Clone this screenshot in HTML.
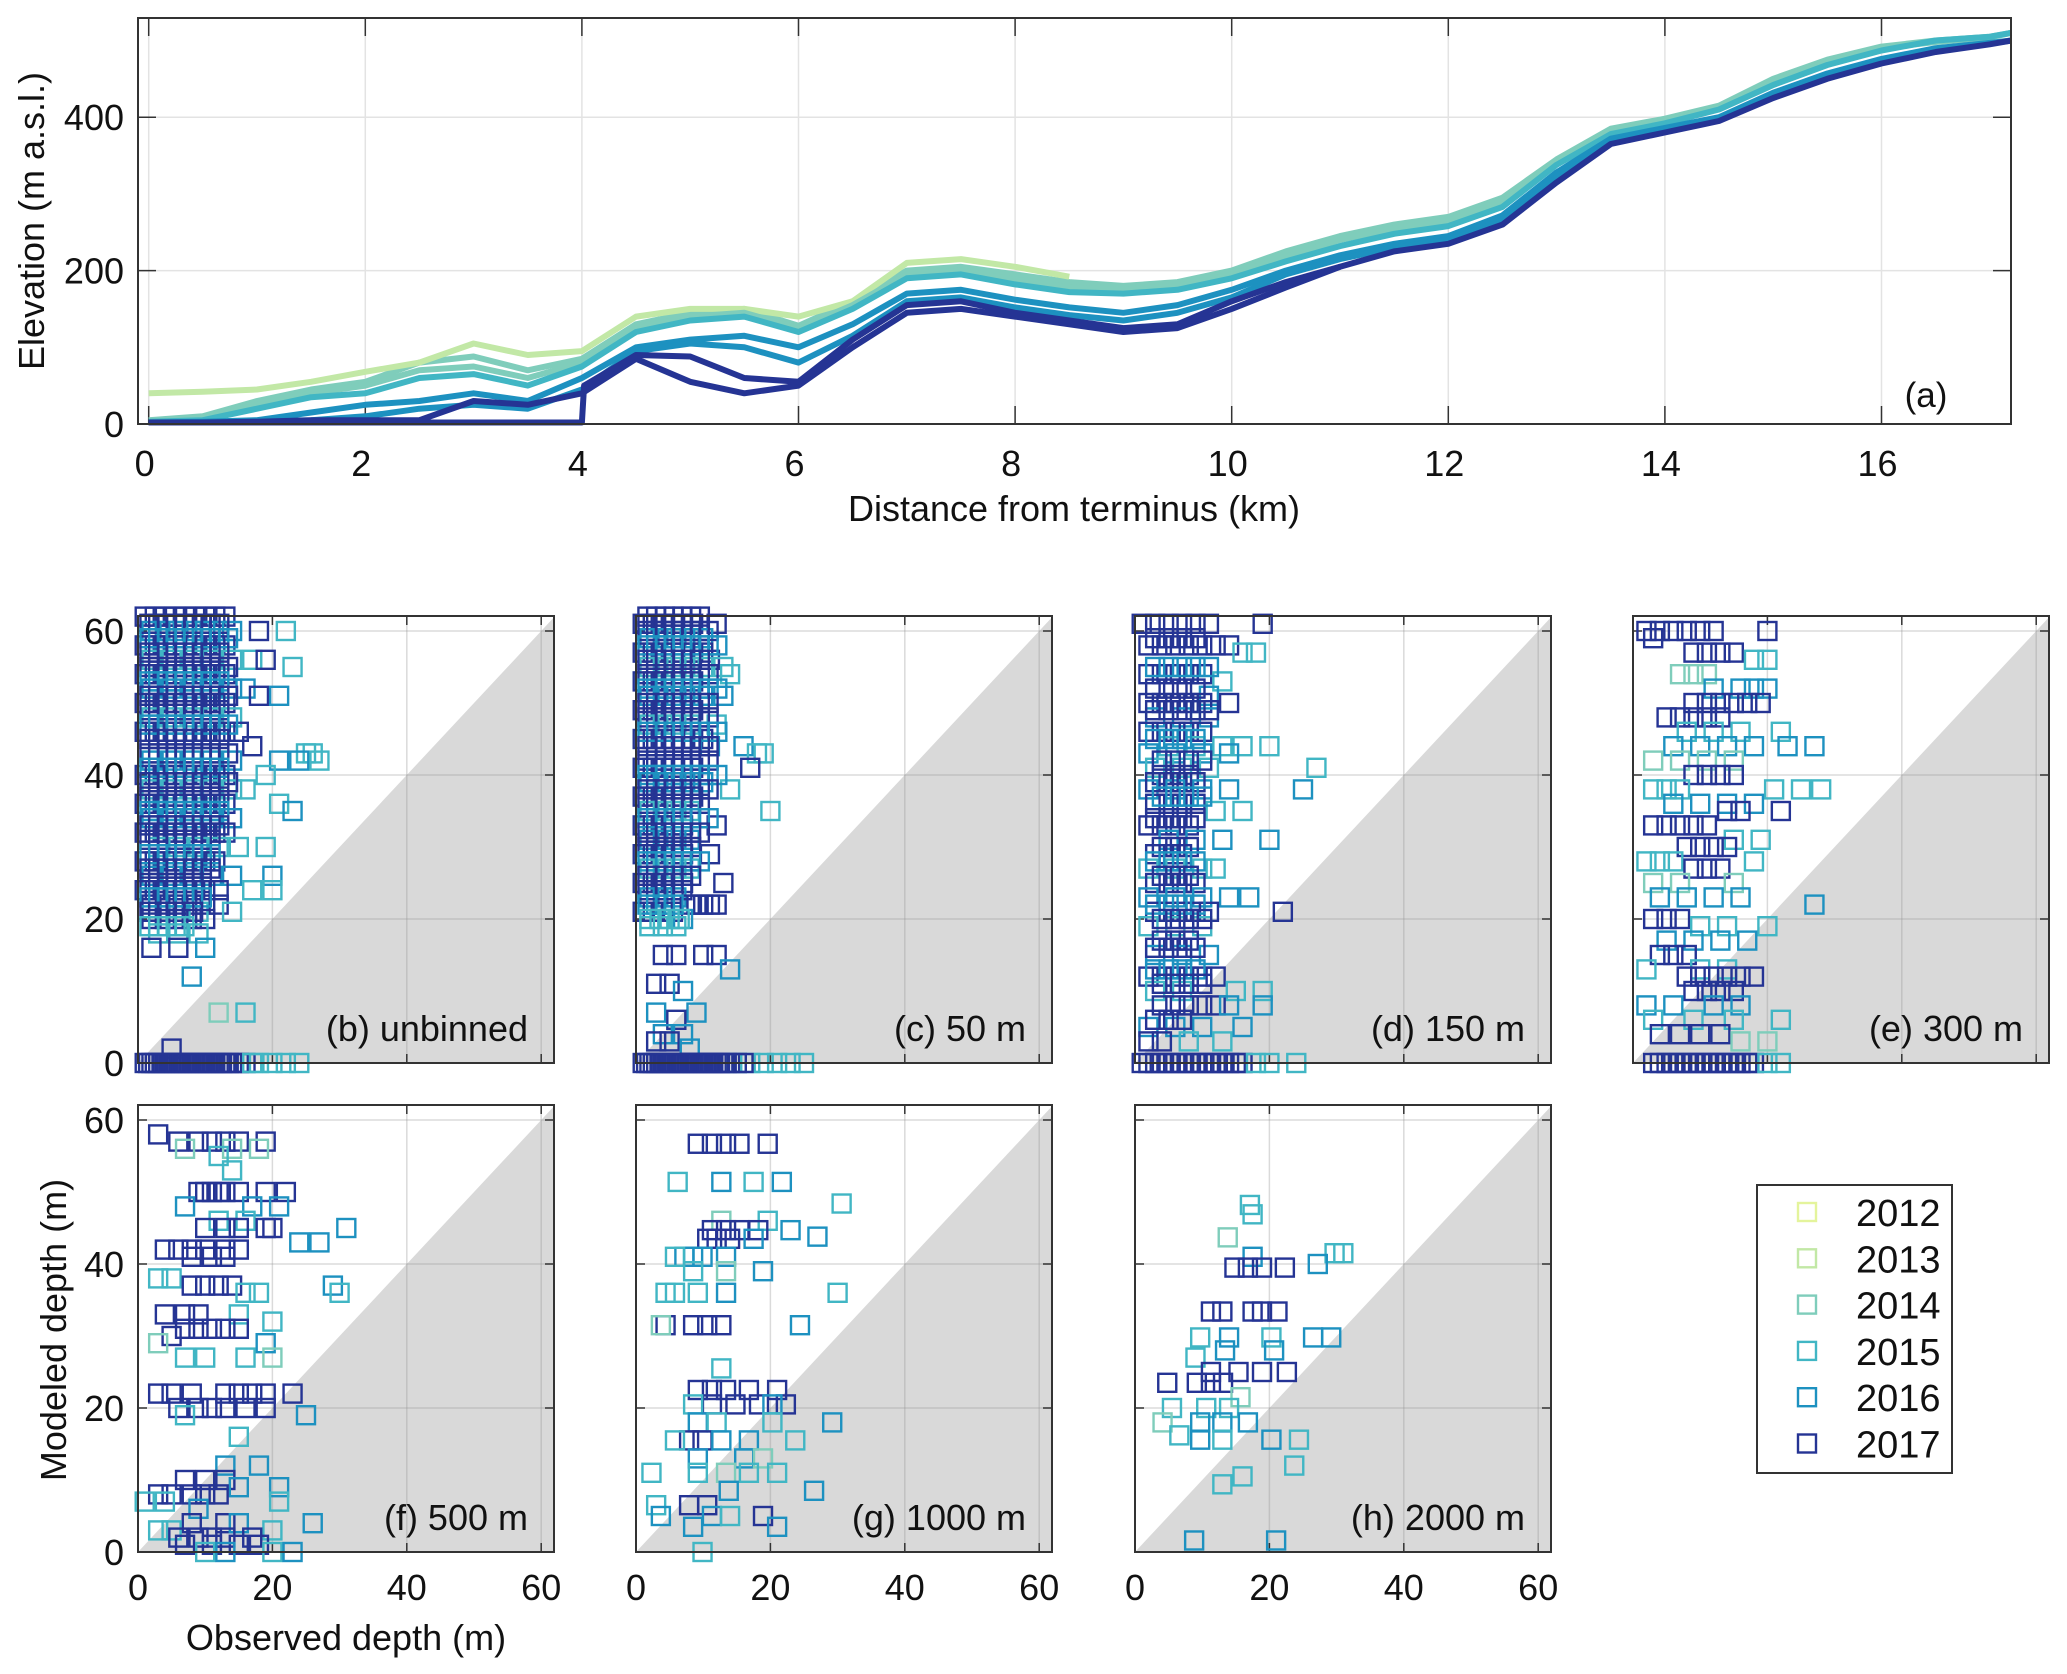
<!DOCTYPE html>
<html><head><meta charset="utf-8"><style>
body{margin:0;background:#fff}
svg{display:block}
text{font-family:"Liberation Sans",sans-serif;fill:#111}
</style></head><body>
<svg id="fig" width="2067" height="1674" viewBox="0 0 2067 1674" xmlns="http://www.w3.org/2000/svg">
<g id="topPanel"></g>
<g id="bottomPanels"></g>
</svg>
<script>
const YEARS = ["2012","2013","2014","2015","2016","2017"];
const COLORS = ["#e4f49c","#c2e8a6","#7fcdbb","#41b6c4","#1d91c0","#253494"];
// panel (a) profiles, sampled at 0.5 km
const DIST = [0,0.5,1,1.5,2,2.5,3,3.5,4,4.5,5,5.5,6,6.5,7,7.5,8,8.5,9,9.5,10,10.5,11,11.5,12,12.5,13,13.5,14,14.5,15,15.5,16,16.5,17,17.2];
const ELEV_2013 = [40,42,45,55,68,80,105,90,95,140,150,150,140,160,210,215,205,192];
const ELEV_2014A = [5,10,30,45,55,80,88,70,85,130,145,150,128,160,200,205,195,185,180,185,200,225,245,260,270,295,345,385,398,415,450,475,492,500,505,510];
const ELEV_2014B = [3,5,25,40,50,70,75,60,80,125,140,145,125,155,195,200,188,178,175,180,195,218,240,255,265,290,342,383,396,412,447,472,490,498,504,510];
const ELEV_2015 = [3,5,20,35,40,60,65,50,75,120,135,140,120,150,190,195,182,172,170,175,190,212,232,248,258,283,338,378,392,410,442,468,487,500,505,510];
const ELEV_2016A = [2,3,5,15,25,30,40,30,60,100,110,115,100,130,170,175,162,152,145,155,175,200,220,235,245,272,328,372,386,400,432,457,476,490,497,500];
const ELEV_2016B = [2,2,4,5,10,20,25,20,45,95,105,100,80,115,160,165,152,142,135,145,165,195,215,230,240,265,322,368,384,398,428,454,473,488,496,500];
const ELEV_2017A = [2,2,3,5,5,5,30,25,40,85,55,40,50,100,145,150,140,130,120,125,150,178,205,225,235,260,315,365,380,395,425,450,470,485,495,500];
const DIST_2017B = [0,1,2,3,3.9,4.0,4.02,4.5,5,5.5,6,6.5,7,7.5,8,8.5,9,9.5,10,10.5,11];
const ELEV_2017B = [2,2,2,2,2,2,50,90,88,60,55,110,155,160,145,135,125,130,160,185,205];
const X_TICKS_A = [0,2,4,6,8,10,12,14,16];
const Y_TICKS_A = [0,200,400];
const DEPTH_TICKS = ["0","20","40","60"];

// scatter panels: rows of [modeled depth, year index, [observed depths]]
const PB = [[62,5,[1,2.5,4,5.5,7,8.5,10,11.5,13]],[60,4,[2,4,6,8,10,12,14]],[60,5,[18]],[60,3,[22]],[58,5,[1,2.5,4,5.5,7,8.5,10,11.5,13]],[56,3,[2,5,8,11,14,17]],[56,5,[19]],[55,3,[23]],[54,5,[1,2.5,4,5.5,7,8.5,10,11.5,13]],[52,4,[2,5,8,11,14,16]],[51,5,[18]],[51,4,[21]],[50,5,[1,2.5,4,5.5,7,8.5,10,11.5,13]],[48,3,[2,5,8,11,14]],[46,5,[1,2.5,4,5.5,7,8.5,10,11.5,13,15]],[44,5,[17]],[43,3,[25,26]],[42,4,[2,5,8,11,14,21,24]],[42,3,[27]],[40,5,[1,2.5,4,5.5,7,8.5,10,11.5,13]],[40,3,[19]],[38,3,[2,5,8,11,14,16]],[36,5,[1,2.5,4,5.5,7,8.5,10,11.5,13]],[36,3,[21]],[35,4,[23]],[34,4,[2,5,8,11,14]],[32,5,[1,2.5,4,5.5,7,8.5,10,11.5,13]],[30,3,[3,6,9,12,15,19]],[28,5,[1,2.5,4,5.5,7,8.5,10,11.5]],[26,4,[2,5,8,11,14,20]],[24,5,[1,2.5,4,5.5,7,8.5,10,12]],[24,3,[17,20]],[22,5,[2,4,6,8,10,12]],[21,3,[3,6,9,14]],[20,5,[2,4,6,8,10]],[18,3,[3,6,9]],[16,5,[2,6]],[16,4,[10]],[12,4,[8]],[7,2,[12]],[7,3,[16]],[2,5,[5]],[0,5,[1,2,3,4,5,6,7,8,9,10,11,12,13,14,15,16]],[0,3,[17,18,20,22,24]]];
const PB_FILL = [[61,5,[1.7,3,4.3,5.6,6.9,8.2,9.5,10.8,12.1]],[59,4,[1.7,3,4.3,5.6,6.9,8.2,9.5,10.8,12.1,13.4]],[57,5,[1.7,3,4.3,5.6,6.9,8.2,9.5,10.8,12.1]],[55,5,[1.7,3,4.3,5.6,6.9,8.2,9.5,10.8,12.1,13.4]],[53,4,[1.7,3,4.3,5.6,6.9,8.2,9.5,10.8,12.1]],[51,5,[1.7,3,4.3,5.6,6.9,8.2,9.5,10.8,12.1,13.4]],[49,5,[1.7,3,4.3,5.6,6.9,8.2,9.5,10.8,12.1]],[47,4,[1.7,3,4.3,5.6,6.9,8.2,9.5,10.8,12.1,13.4]],[45,5,[1.7,3,4.3,5.6,6.9,8.2,9.5,10.8,12.1]],[43,5,[1.7,3,4.3,5.6,6.9,8.2,9.5,10.8,12.1,13.4]],[41,4,[1.7,3,4.3,5.6,6.9,8.2,9.5,10.8,12.1]],[39,5,[1.7,3,4.3,5.6,6.9,8.2,9.5,10.8,12.1,13.4]],[37,5,[1.7,3,4.3,5.6,6.9,8.2,9.5,10.8,12.1]],[35,4,[1.7,3,4.3,5.6,6.9,8.2,9.5,10.8,12.1]],[33,5,[1.7,3,4.3,5.6,6.9,8.2,9.5,10.8,12.1]],[31,5,[1.7,3,4.3,5.6,6.9,8.2,9.5,10.8]],[29,4,[1.7,3,4.3,5.6,6.9,8.2,9.5,10.8]],[27,5,[1.7,3,4.3,5.6,6.9,8.2,9.5,10.8]],[25,5,[1.7,3,4.3,5.6,6.9,8.2,9.5]],[23,4,[1.7,3,4.3,5.6,6.9,8.2,9.5]],[21,5,[1.7,3,4.3,5.6,6.9,8.2]],[19,3,[1.7,3,4.3,5.6,6.9]],[0,5,[1.5,2.5,3.5,4.5,5.5,6.5,7.5,8.5,9.5,10.5,11.5,12.5,13.5]]];
const PC = [[61,5,[1,2.5,4,5.5,7,8.5,12]],[59,4,[2,4,6,8,10]],[57,5,[1,2.5,4,5.5,7,8.5,10]],[56,5,[11]],[55,3,[2,4,6,8,10,13]],[53,5,[1,2.5,4,5.5,7,8.5]],[54,3,[14]],[51,4,[2,4,6,8,10,13]],[49,5,[1,2.5,4,5.5,7,8.5]],[47,3,[2,4,6,8,12]],[45,5,[1,2.5,4,5.5,7,8.5,10]],[44,4,[11,16]],[43,3,[18,19]],[41,5,[1,2.5,4,5.5,7,8.5,17]],[39,4,[2,4,6,8,10]],[38,3,[14]],[37,5,[1,2.5,4,5.5,7,8.5]],[35,3,[2,4,6,8,20]],[33,5,[1,2.5,4,5.5,7,12]],[31,4,[2,4,6,8]],[29,5,[1,2.5,4,5.5,7,11]],[27,3,[2,4,6,8]],[25,5,[1,2.5,4,5.5,7,13]],[23,4,[2,4,6]],[22,5,[8,9,10,11,12]],[21,5,[1,2.5,4,5.5]],[20,4,[7]],[19,3,[2,4,6]],[15,5,[4,6,10,12]],[13,4,[14]],[11,5,[3,5]],[10,4,[7]],[7,4,[3,9]],[6,5,[6]],[4,4,[4,7]],[3,5,[3,5]],[2,4,[8]],[0,5,[1,2,3,4,5,6,7,8,9,10,11,12,13,14]],[0,3,[15,17,19,21,23,25]]];
const PC_FILL = [[62,5,[1.7,3,4.3,5.6,6.9,8.2,9.5]],[60,5,[1.7,3,4.3,5.6,6.9,8.2,9.5,10.8]],[58,4,[1.7,3,4.3,5.6,6.9,8.2,9.5,10.8,12.1]],[56,5,[1.7,3,4.3,5.6,6.9,8.2,9.5]],[54,5,[1.7,3,4.3,5.6,6.9,8.2,9.5,10.8]],[52,4,[1.7,3,4.3,5.6,6.9,8.2,9.5,10.8,12.1]],[50,5,[1.7,3,4.3,5.6,6.9,8.2,9.5,10.8]],[48,5,[1.7,3,4.3,5.6,6.9,8.2,9.5,10.8]],[46,4,[1.7,3,4.3,5.6,6.9,8.2,9.5,10.8,12.1]],[44,5,[1.7,3,4.3,5.6,6.9,8.2,9.5,10.8]],[42,5,[1.7,3,4.3,5.6,6.9,8.2,9.5,10.8]],[40,4,[1.7,3,4.3,5.6,6.9,8.2,9.5,10.8,12.1]],[38,5,[1.7,3,4.3,5.6,6.9,8.2,9.5,10.8]],[36,5,[1.7,3,4.3,5.6,6.9,8.2,9.5]],[34,4,[1.7,3,4.3,5.6,6.9,8.2,9.5,10.8]],[32,5,[1.7,3,4.3,5.6,6.9,8.2,9.5]],[30,5,[1.7,3,4.3,5.6,6.9,8.2]],[28,4,[1.7,3,4.3,5.6,6.9,8.2,9.5]],[26,5,[1.7,3,4.3,5.6,6.9,8.2]],[24,5,[1.7,3,4.3,5.6,6.9]],[22,4,[1.7,3,4.3,5.6]],[20,3,[2,3.5,5,6.5]],[0,5,[1.5,2.5,3.5,4.5,5.5,6.5,7.5,8.5,9.5,10.5,11.5,12.5,13.5,15,16]]];
const PD = [[61,5,[1,3,5,7,9,11,19]],[58,5,[2,4,6,8,10,12,14]],[57,3,[16,18]],[54,5,[2,4,6,8,10]],[53,3,[13]],[51,4,[11]],[50,5,[2,4,6,8,10,14]],[48,4,[3,7,11]],[46,5,[2,4,6,8,10]],[44,3,[5,9,13,16,20]],[43,4,[2,6,10,14]],[41,3,[3,7,11,27]],[40,5,[4,6,8]],[38,4,[2,6,10,14,25]],[36,5,[3,5,7,9]],[35,3,[12,16]],[33,5,[2,4,6,8]],[31,4,[5,9,13,20]],[29,5,[3,5,7]],[27,3,[2,6,10,12]],[25,5,[3,5,7,9]],[23,4,[2,6,10,14,17]],[21,5,[3,5,7,9,11,22]],[19,3,[2,6,10]],[17,5,[4,6,8]],[15,4,[3,7,11]],[12,5,[2,4,6,8,10,12]],[10,3,[3,7,15,19]],[8,5,[4,6,8,10,12]],[8,4,[14,19]],[5,4,[2,6,10,16]],[3,5,[2,4]],[3,3,[8,13]],[0,5,[1,2,3,4,5,6,7,8,9,10,11,12,13,14,15,16]],[0,3,[18,20,24]]];
const PD_FILL = [[59,5,[3,5,7,9]],[55,4,[3,5,7,9,11]],[52,5,[3,5,7,9]],[49,5,[3,5,7,9,11]],[45,4,[3,5,7,9]],[42,5,[4,6,8,10]],[39,5,[3,5,7,9]],[37,4,[4,6,8,10]],[34,5,[3,5,7,9]],[30,5,[4,6,8]],[28,4,[3,5,7,9]],[26,5,[4,6,8]],[22,4,[3,5,7,9]],[20,5,[4,6,8,10]],[16,5,[3,5,7,9]],[13,4,[3,5,7,9]],[11,5,[4,6,8,10]],[6,5,[3,5,7]]];
const PE = [[60,5,[2,4,6,8,10,12,20]],[59,5,[3]],[57,5,[9,11,13,15]],[56,3,[18,20]],[54,2,[7,9,11]],[52,4,[12,16,18,20]],[50,5,[9,11,13,15,17,19]],[48,5,[5,7,9,11,13]],[46,3,[8,12,16,22]],[44,4,[6,10,14,18,23,27]],[42,2,[3,7,11,15]],[40,5,[9,11,13,15]],[38,3,[3,5,7,21,25,28]],[36,4,[6,10,14,18]],[35,5,[14,16,22]],[33,5,[3,5,7,9,11]],[31,3,[15,19]],[30,5,[8,10,12,14]],[28,3,[2,4,6,18]],[27,5,[9,11,13]],[25,2,[3,7,15]],[23,4,[4,8,12,16]],[22,4,[27]],[20,5,[3,5,7]],[19,3,[10,14,20]],[17,4,[5,9,13,17]],[15,5,[4,6,8]],[13,3,[2,10,14]],[12,5,[8,10,12,14,16,18]],[10,5,[9,11,13,15]],[8,4,[2,6,12,16]],[6,3,[3,9,15,22]],[4,5,[4,7,10,13]],[3,2,[16,20]],[0,5,[3,4,5,6,7,8,9,10,11,12,13,14,15,16,17,18]],[0,3,[20,22]]];
const PF = [[58,5,[3]],[57,5,[6,9,11,13,15,19]],[56,2,[7,14,18]],[55,3,[12]],[53,3,[14]],[50,5,[9,10,11,12,13,15,19,22]],[48,4,[7,17,21]],[46,3,[12,16]],[45,5,[10,13,15,19,20]],[45,4,[31]],[43,4,[24,27]],[42,5,[4,6,8,10,13,15]],[41,5,[8,11,13]],[38,3,[3,5]],[37,5,[8,10,12,14]],[37,4,[29]],[36,3,[16,18,30]],[33,5,[4,7,9]],[33,3,[15]],[32,3,[20]],[31,5,[7,9,11,13,15]],[30,5,[5]],[29,2,[3]],[29,4,[19]],[27,3,[7,10,16]],[27,2,[20]],[22,5,[3,5,8,13,15,17,19,23]],[20,5,[6,9,11,13,16,19]],[19,4,[25]],[19,3,[7]],[16,3,[15]],[12,4,[13,18]],[10,5,[7,10,13]],[9,4,[15,21]],[8,5,[3,5,8,10,12]],[7,3,[1,4,21]],[6,4,[9]],[4,5,[8,13]],[4,4,[15,26]],[3,3,[3,5,20]],[2,5,[6,9,11,13,17]],[1,5,[7,11,15,18]],[0,3,[10,20]],[0,4,[13,23]]];
const PG = [[56.7,5,[9.2,11.3,13.4,15.4,19.6]],[51.4,3,[6.2,17.5]],[51.4,4,[12.7,21.7]],[48.4,3,[30.6]],[46,2,[12.7]],[46,3,[19.6]],[44.7,5,[11.3,13.4,15.4,18.2]],[44.7,4,[23]],[43.8,4,[27]],[43.5,5,[10.6,12,14]],[43.5,4,[17.5]],[41,4,[7.2,8.5,9.9,13.4]],[41,3,[5.8]],[39,4,[18.9]],[39,3,[8.5]],[39,2,[13.4]],[36,3,[4.4,5.8,9.2,30]],[36,4,[13.4]],[31.5,5,[4.4,8.5,10.6,12.7]],[31.5,4,[24.4]],[31.5,2,[3.7]],[25.5,3,[12.7]],[22.5,5,[9.2,11.3,13.4,16.8,21]],[20.5,5,[11.3,14.8,18.3,22.3]],[20.5,3,[8.5]],[20.5,4,[20.3]],[18,4,[9.2,29.2]],[18,3,[12,20.3]],[15.5,5,[7.9,9.9]],[15.5,3,[5.8,23.7]],[15.5,4,[12.7,16.8]],[13,4,[9.2,16.1]],[13,2,[18.9]],[11,3,[2.3,9.2,16.8,21]],[11,2,[13.4]],[8.5,4,[13.8,26.5]],[6.5,3,[3]],[6.5,5,[7.9,10.6]],[5,4,[3.7,11.3]],[5,3,[14]],[5,5,[18.9]],[3.5,4,[8.5,21]],[0,3,[9.9]]];
const PH = [[48.2,3,[17.1]],[46.9,3,[17.5]],[43.7,2,[13.8]],[41.5,3,[29.7,31]],[41,4,[17.5]],[40,4,[27.2]],[39.5,5,[14.8,16.8,18.9,22.3]],[33.4,5,[11.3,13,17.5,18.9,21.2]],[29.8,3,[9.7,20.3]],[29.8,4,[14,26.5,29.2]],[28,4,[13.4,20.7]],[27,3,[9]],[25,5,[11.3,15.4,18.9,22.6]],[23.5,5,[4.8,9.2,11.3,13.1]],[21.5,2,[15.7]],[20,3,[5.5,10.6,14]],[18,2,[4.1]],[18,4,[9.7,13,16.8]],[16.2,3,[6.6]],[15.6,4,[9.7,20.3]],[15.6,3,[13,24.4]],[12,3,[23.7]],[10.5,3,[16]],[9.4,3,[13]],[1.6,4,[8.8,21]]];

const NS = "http://www.w3.org/2000/svg";
function mk(parent, tag, attrs, txt){
  const e = document.createElementNS(NS, tag);
  for (const k in attrs) e.setAttribute(k, attrs[k]);
  if (txt !== undefined) e.textContent = txt;
  parent.appendChild(e); return e;
}

// ---------- panel (a) ----------
const gTop = document.getElementById('topPanel');
const AL=138, AR=2011, AT=18, AB=424;
const ax = km => 148.7 + km*108.3;
const ay = m => AB - m*0.767;
for (const t of X_TICKS_A){
  const gl = mk(gTop,'line',{x1:ax(t),x2:ax(t),y1:AT,y2:AB,stroke:'#e3e3e3','stroke-width':1.5});
  
  
  mk(gTop,'line',{x1:ax(t),x2:ax(t),y1:AB,y2:AB-18,stroke:'#333','stroke-width':1.5});
  mk(gTop,'line',{x1:ax(t),x2:ax(t),y1:AT,y2:AT+18,stroke:'#333','stroke-width':1.5});
  const tl = mk(gTop,'text',{x:ax(t)-4,y:476,'font-size':36,'text-anchor':'middle'},String(t));
  
  
}
for (const t of Y_TICKS_A){
  const gl = mk(gTop,'line',{x1:AL,x2:AR,y1:ay(t),y2:ay(t),stroke:'#e3e3e3','stroke-width':1.5});
  
  
  mk(gTop,'line',{x1:AL,x2:AL+18,y1:ay(t),y2:ay(t),stroke:'#333','stroke-width':1.5});
  mk(gTop,'line',{x1:AR,x2:AR-18,y1:ay(t),y2:ay(t),stroke:'#333','stroke-width':1.5});
  const tl = mk(gTop,'text',{x:124,y:ay(t)+13,'font-size':36,'text-anchor':'end'},String(t));
  
  
}
const profiles = [[DIST,ELEV_2014A,2],[DIST,ELEV_2013,1],[DIST,ELEV_2014B,2],[DIST,ELEV_2015,3],[DIST,ELEV_2016A,4],[DIST,ELEV_2016B,4],[DIST,ELEV_2017A,5],[DIST_2017B,ELEV_2017B,5]];
for (const [xs,ys,yi] of profiles){
  const pts=[];
  for (let i=0;i<ys.length;i++){ if(ys[i]!==null) pts.push(ax(xs[i]).toFixed(1)+','+ay(ys[i]).toFixed(1)); }
  const pl = mk(gTop,'polyline',{points:pts.join(' '),fill:'none',stroke:COLORS[yi],'stroke-width':6,'stroke-linejoin':'round'});
  
  
}
const fa = mk(gTop,'rect',{x:AL,y:AT,width:AR-AL,height:AB-AT,fill:'none',stroke:'#333','stroke-width':2});


const la = mk(gTop,'text',{x:1926,y:407,'font-size':35,'text-anchor':'middle'},'(a)');


const xt = mk(gTop,'text',{x:1074,y:521,'font-size':36,'text-anchor':'middle'},'Distance from terminus (km)');


const yt = mk(gTop,'text',{x:0,y:0,'font-size':36,'text-anchor':'middle',transform:'translate(44,221) rotate(-90)'},'Elevation (m a.s.l.)');



// ---------- depth panels ----------
const gBottom = document.getElementById('bottomPanels');
const panels = [
  [PB.concat(PB_FILL),138,616,'(b) unbinned',true,false],
  [PC.concat(PC_FILL),636,616,'(c) 50 m',false,false],
  [PD.concat(PD_FILL),1135,616,'(d) 150 m',false,false],
  [PE,1633,616,'(e) 300 m',false,false],
  [PF,138,1105,'(f) 500 m',true,true],
  [PG,636,1105,'(g) 1000 m',false,true],
  [PH,1135,1105,'(h) 2000 m',false,true]];
const PW=416, PHT=447, U=7.2, SX=6.72;
panels.forEach(([rows,L,T,label,yl,xl],pi)=>{
  const g = mk(gBottom,'g',{});
  
  
  const B=T+PHT, R=L+PW;
  const px = v => L + v*SX;
  const py = v => B - v*U;
  const tri = mk(g,'polygon',{points:`${L},${B} ${px(61.8)},${py(61.8)} ${R},${T} ${R},${B}`,fill:'#d9d9d9'});
  
  
  [0,20,40,60].forEach((t,ti)=>{
    mk(g,'line',{x1:px(t),x2:px(t),y1:T,y2:B,stroke:'rgba(150,150,150,0.35)','stroke-width':1.5});
    mk(g,'line',{x1:L,x2:R,y1:py(t),y2:py(t),stroke:'rgba(150,150,150,0.35)','stroke-width':1.5});
    mk(g,'line',{x1:px(t),x2:px(t),y1:B,y2:B-9,stroke:'#333','stroke-width':1.5});
    mk(g,'line',{x1:px(t),x2:px(t),y1:T,y2:T+9,stroke:'#333','stroke-width':1.5});
    mk(g,'line',{x1:L,x2:L+9,y1:py(t),y2:py(t),stroke:'#333','stroke-width':1.5});
    mk(g,'line',{x1:R,x2:R-9,y1:py(t),y2:py(t),stroke:'#333','stroke-width':1.5});
    if (yl){
      const tl = mk(g,'text',{x:L-14,y:py(t)+13,'font-size':36,'text-anchor':'end'},DEPTH_TICKS[ti]);
      
      
    }
    if (xl){
      const tl = mk(g,'text',{x:px(t),y:B+48,'font-size':36,'text-anchor':'middle'},DEPTH_TICKS[ti]);
      
      
    }
  });
  for (const [m,yi,xs] of rows){
    for (const o of xs){
      const s = mk(g,'rect',{x:px(o)-9,y:py(m)-9,width:18,height:18,fill:'none',stroke:COLORS[yi],'stroke-width':2.4});
      
      
    }
  }
  const fr = mk(g,'rect',{x:L,y:T,width:PW,height:PHT,fill:'none',stroke:'#333','stroke-width':2});
  
  
  const lb = mk(g,'text',{x:R-26,y:B-22,'font-size':36,'text-anchor':'end'},label);
  
  
});
const ot = mk(gBottom,'text',{x:346,y:1650,'font-size':36,'text-anchor':'middle'},'Observed depth (m)');


const mt = mk(gBottom,'text',{x:0,y:0,'font-size':36,'text-anchor':'middle',transform:'translate(66,1330) rotate(-90)'},'Modeled depth (m)');



// legend
const lg = mk(gBottom,'g',{});


mk(lg,'rect',{x:1757,y:1185,width:195,height:288,fill:'#fff',stroke:'#333','stroke-width':2});
YEARS.forEach((yr,i)=>{
  const cy = 1212 + i*46.3;
  const mkr = mk(lg,'rect',{x:1798,y:cy-9,width:18,height:18,fill:'none',stroke:COLORS[i],'stroke-width':2.4});
  
  
  const t = mk(lg,'text',{x:1856,y:cy+14,'font-size':38},yr);
  
  
});
</script>
</body></html>
